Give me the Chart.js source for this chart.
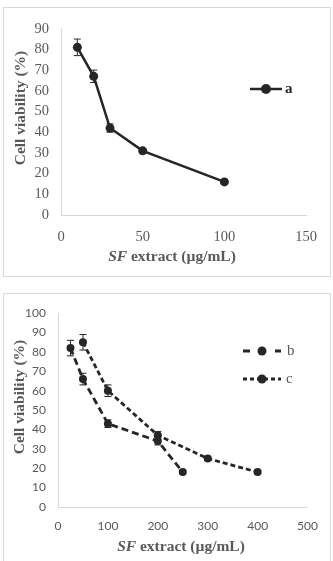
<!DOCTYPE html>
<html>
<head>
<meta charset="utf-8">
<script src="https://cdn.jsdelivr.net/npm/chart.js@4.4.1/dist/chart.umd.min.js"></script>
<style>
  body { margin: 0; background: #fff; width: 333px; height: 561px; overflow: hidden; position: relative; }
  .panel { position: absolute; left: 3px; width: 328px; box-sizing: border-box; border: 1px solid #d9d9d9; background: #fff; }
  #panel-top { top: 7px; height: 270px; }
  #panel-bottom { top: 293px; height: 280px; }
  canvas { display: block; }
</style>
</head>
<body>
<div class="panel" id="panel-top"><canvas id="chart-top" width="326" height="268"></canvas></div>
<div class="panel" id="panel-bottom"><canvas id="chart-bottom" width="326" height="267"></canvas></div>
<script>
// top panel: series a
const concA = [10, 20, 30, 50, 100];
const viabilityA = [81, 67, 42, 31, 16];
const errorA = [4, 3, 2, 1, 1];

// bottom panel: series b and c
const concB = [25, 50, 100, 200, 250];
const viabilityB = [82, 66, 43, 34, 18];
const errorB = [4, 3, 2, 2, 1];
const concC = [50, 100, 200, 300, 400];
const viabilityC = [85, 60, 37, 25, 18];
const errorC = [4, 3, 2, 1, 1];

const yTitle = "Cell viability (%)";
const xTitleItalic = "SF";
const xTitleRest = " extract (µg/mL)";

const ink = "#262626";
const textGray = "#595959";
const axisGray = "#d9d9d9";

function toPoints(xs, ys) {
  return xs.map((x, i) => ({ x: x, y: ys[i] }));
}

// error bars, legend and axis titles drawn on the canvas
const extrasPlugin = {
  id: "extras",
  beforeDatasetsDraw(chart) {
    const ctx = chart.ctx;
    const xs = chart.scales.x;
    const ys = chart.scales.y;
    ctx.save();
    ctx.strokeStyle = ink;
    ctx.lineWidth = 1;
    chart.data.datasets.forEach((ds) => {
      ds.data.forEach((p, i) => {
        const e = ds.errors[i];
        const px = xs.getPixelForValue(p.x);
        const top = ys.getPixelForValue(p.y + e);
        const bot = ys.getPixelForValue(p.y - e);
        ctx.beginPath();
        ctx.moveTo(px, top); ctx.lineTo(px, bot);
        ctx.moveTo(px - 3.5, top); ctx.lineTo(px + 3.5, top);
        ctx.moveTo(px - 3.5, bot); ctx.lineTo(px + 3.5, bot);
        ctx.stroke();
      });
    });
    ctx.restore();
  },
  afterDraw(chart) {
    const opts = chart.options.plugins.extras;
    const ctx = chart.ctx;
    ctx.save();
    // legend
    chart.data.datasets.forEach((ds, i) => {
      const lg = opts.legend[i];
      ctx.strokeStyle = ink;
      ctx.lineWidth = ds.borderWidth;
      ctx.setLineDash(lg.dash || []);
      ctx.beginPath();
      ctx.moveTo(lg.x0, lg.y);
      ctx.lineTo(lg.x1, lg.y);
      ctx.stroke();
      ctx.setLineDash([]);
      ctx.fillStyle = ink;
      ctx.beginPath();
      ctx.arc((lg.x0 + lg.x1) / 2, lg.y, ds.pointRadius + 0.5, 0, Math.PI * 2);
      ctx.fill();
      ctx.fillStyle = lg.color;
      ctx.font = lg.font;
      ctx.textBaseline = "middle";
      ctx.textAlign = "left";
      ctx.fillText(ds.label, lg.x1 + lg.gap, lg.y);
    });
    // y title
    ctx.fillStyle = textGray;
    ctx.font = "bold 15.5px 'Liberation Serif'";
    ctx.textAlign = "center";
    ctx.textBaseline = "middle";
    ctx.save();
    ctx.translate(opts.yTitle.x, opts.yTitle.y);
    ctx.rotate(-Math.PI / 2);
    ctx.fillText(yTitle, 0, 0);
    ctx.restore();
    // x title, SF in italics
    ctx.textAlign = "left";
    const f1 = "italic bold 15.5px 'Liberation Serif'";
    const f2 = "bold 15.5px 'Liberation Serif'";
    ctx.font = f1;
    const w1 = ctx.measureText(xTitleItalic).width;
    ctx.font = f2;
    const w2 = ctx.measureText(xTitleRest).width;
    const sx = opts.xTitle.x - (w1 + w2) / 2;
    ctx.font = f1;
    ctx.fillText(xTitleItalic, sx, opts.xTitle.y);
    ctx.font = f2;
    ctx.fillText(xTitleRest, sx + w1, opts.xTitle.y);
    ctx.restore();
  },
};

function axis(min, max, step, font, pad, size, isY) {
  return {
    type: "linear",
    min: min,
    max: max,
    grid: { display: false, drawTicks: false, tickLength: 0 },
    border: { display: true, color: axisGray, width: 1 },
    ticks: { stepSize: step, color: textGray, font: font, padding: pad, maxRotation: 0 },
    afterFit(scale) {
      if (isY) scale.width = size; else scale.height = size;
    },
  };
}

const serifTick = { family: "'Liberation Serif'", size: 14.5 };
const sansTick = { family: "Lato", size: 12 };

new Chart(document.getElementById("chart-top").getContext("2d"), {
  type: "line",
  data: {
    datasets: [
      {
        label: "a",
        data: toPoints(concA, viabilityA),
        errors: errorA,
        borderColor: ink,
        backgroundColor: ink,
        borderWidth: 2.5,
        pointRadius: 4.5,
        pointBackgroundColor: ink,
        pointBorderWidth: 0,
        tension: 0,
      },
    ],
  },
  options: {
    responsive: false,
    animation: false,
    layout: { padding: { left: 0, top: 9, right: 18, bottom: 0 } },
    scales: {
      x: axis(0, 150, 50, serifTick, 13, 61, false),
      y: axis(0, 90, 10, serifTick, 12, 57, true),
    },
    plugins: {
      legend: { display: false },
      tooltip: { enabled: false },
      extras: {
        legend: [{ x0: 246, x1: 278, y: 81, color: ink, font: "bold 15px 'Liberation Serif'", gap: 3 }],
        yTitle: { x: 17, y: 100 },
        xTitle: { x: 168, y: 249 },
      },
    },
  },
  plugins: [extrasPlugin],
});

new Chart(document.getElementById("chart-bottom").getContext("2d"), {
  type: "line",
  data: {
    datasets: [
      {
        label: "b",
        data: toPoints(concB, viabilityB),
        errors: errorB,
        borderColor: ink,
        backgroundColor: ink,
        borderWidth: 2.8,
        borderDash: [7, 4],
        pointRadius: 4,
        pointBackgroundColor: ink,
        pointBorderWidth: 0,
        tension: 0,
      },
      {
        label: "c",
        data: toPoints(concC, viabilityC),
        errors: errorC,
        borderColor: ink,
        backgroundColor: ink,
        borderWidth: 2.8,
        borderDash: [5, 3],
        pointRadius: 4,
        pointBackgroundColor: ink,
        pointBorderWidth: 0,
        tension: 0,
      },
    ],
  },
  options: {
    responsive: false,
    animation: false,
    layout: { padding: { left: 0, top: 13, right: 17, bottom: 0 } },
    scales: {
      x: axis(0, 500, 100, sansTick, 12, 54, false),
      y: axis(0, 100, 10, sansTick, 12, 54, true),
    },
    plugins: {
      legend: { display: false },
      tooltip: { enabled: false },
      extras: {
        legend: [
          { x0: 239, x1: 277, y: 57, dash: [7, 9], color: textGray, font: "15px 'Liberation Serif'", gap: 6 },
          { x0: 239, x1: 277, y: 85, dash: [4, 3], color: textGray, font: "15px 'Liberation Serif'", gap: 5 },
        ],
        yTitle: { x: 16, y: 103 },
        xTitle: { x: 177, y: 253 },
      },
    },
  },
  plugins: [extrasPlugin],
});
</script>
</body>
</html>
